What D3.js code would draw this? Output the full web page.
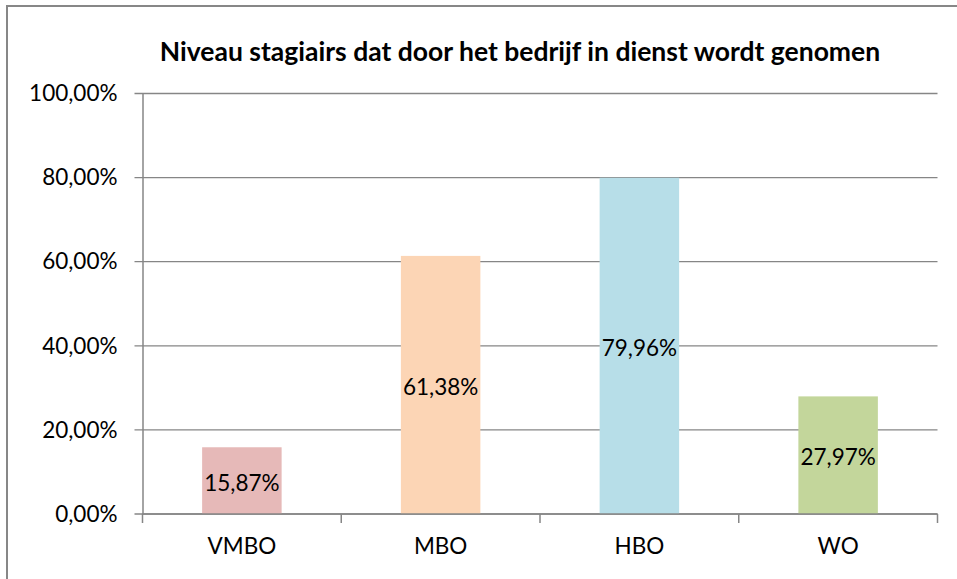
<!DOCTYPE html>
<html>
<head>
<meta charset="utf-8">
<script src="https://cdn.jsdelivr.net/npm/d3@7.9.0/dist/d3.min.js"></script>
<style>
  body { margin: 0; background: #fff; }
  svg { display: block; font-family: Lato, 'Open Sans', sans-serif; }
</style>
</head>
<body>
<svg id="chart" width="957" height="579"></svg>
<script>
const categories = ['VMBO', 'MBO', 'HBO', 'WO'];
const values = [15.87, 61.38, 79.96, 27.97];
const colors = ['#e6b9b8', '#fcd5b5', '#b7dee8', '#c3d69b'];
const yTicks = [0, 20, 40, 60, 80, 100];
const title = 'Niveau stagiairs dat door het bedrijf in dienst wordt genomen';

const fmt = (v) => v.toFixed(2).replace('.', ',') + '%';

const svg = d3.select('#chart');
const margin = { left: 142.5, right: 937.5, top: 93.5, bottom: 514 };
const labelSize = 22.5;

// outer chart border
svg.append('rect')
  .attr('x', 7).attr('y', 6)
  .attr('width', 980).attr('height', 600)
  .attr('fill', 'none')
  .attr('stroke', '#878787')
  .attr('stroke-width', 2);

svg.append('text')
  .attr('x', 520).attr('y', 61)
  .attr('text-anchor', 'middle')
  .attr('font-weight', 'bold')
  .attr('font-size', 26.5)
  .text(title);

let x = d3.scaleBand()
  .domain(categories)
  .range([margin.left, margin.right])
  .paddingInner(0.6)
  .paddingOuter(0.3);

let y = d3.scaleLinear().domain([0, 100]).range([margin.bottom, margin.top]);

// gridlines
svg.append('g')
  .selectAll('line')
  .data(yTicks)
  .join('line')
  .attr('x1', margin.left - 8).attr('x2', margin.right)
  .attr('y1', (d) => y(d)).attr('y2', (d) => y(d))
  .attr('stroke', '#868686')
  .attr('stroke-width', 1.3);

// bars
svg.append('g')
  .selectAll('rect')
  .data(values)
  .join('rect')
  .attr('x', (d, i) => x(categories[i]))
  .attr('width', x.bandwidth())
  .attr('y', (d) => y(d))
  .attr('height', (d) => y(0) - y(d))
  .attr('fill', (d, i) => colors[i]);

// data labels
svg.append('g')
  .selectAll('text')
  .data(values)
  .join('text')
  .attr('x', (d, i) => x(categories[i]) + x.bandwidth() / 2)
  .attr('y', (d) => (y(d) + y(0)) / 2 + 2)
  .attr('dy', '0.35em')
  .attr('text-anchor', 'middle')
  .attr('font-size', labelSize)
  .attr('fill', '#000')
  .text((d) => fmt(d));

// y axis
let yAxis = d3.axisLeft(y)
  .tickValues(yTicks)
  .tickFormat((d) => fmt(d))
  .tickSize(0)
  .tickPadding(25);

let yg = svg.append('g')
  .attr('transform', `translate(${margin.left},0)`)
  .call(yAxis);
yg.select('.domain').attr('stroke', '#868686').attr('stroke-width', 1.5);
yg.selectAll('text').attr('font-size', labelSize).attr('font-family', 'Lato').attr('fill', '#000');

// x axis
let xAxis = d3.axisBottom(x).tickSize(0).tickPadding(24);
let xg = svg.append('g')
  .attr('transform', `translate(0,${margin.bottom})`)
  .call(xAxis);
xg.select('.domain').remove();
xg.selectAll('text').attr('font-size', labelSize).attr('font-family', 'Lato').attr('fill', '#000');

// category separator ticks
let sep = [margin.left, ...categories.slice(1).map((c) => x(c) - x.step() * x.paddingInner() / 2), margin.right];
svg.append('g')
  .selectAll('line')
  .data(sep)
  .join('line')
  .attr('x1', (d) => d).attr('x2', (d) => d)
  .attr('y1', margin.bottom).attr('y2', margin.bottom + 9)
  .attr('stroke', '#868686')
  .attr('stroke-width', 1.5);

svg.append('line')
  .attr('x1', margin.left).attr('x2', margin.right)
  .attr('y1', margin.bottom).attr('y2', margin.bottom)
  .attr('stroke', '#868686')
  .attr('stroke-width', 1.5);
</script>
</body>
</html>
